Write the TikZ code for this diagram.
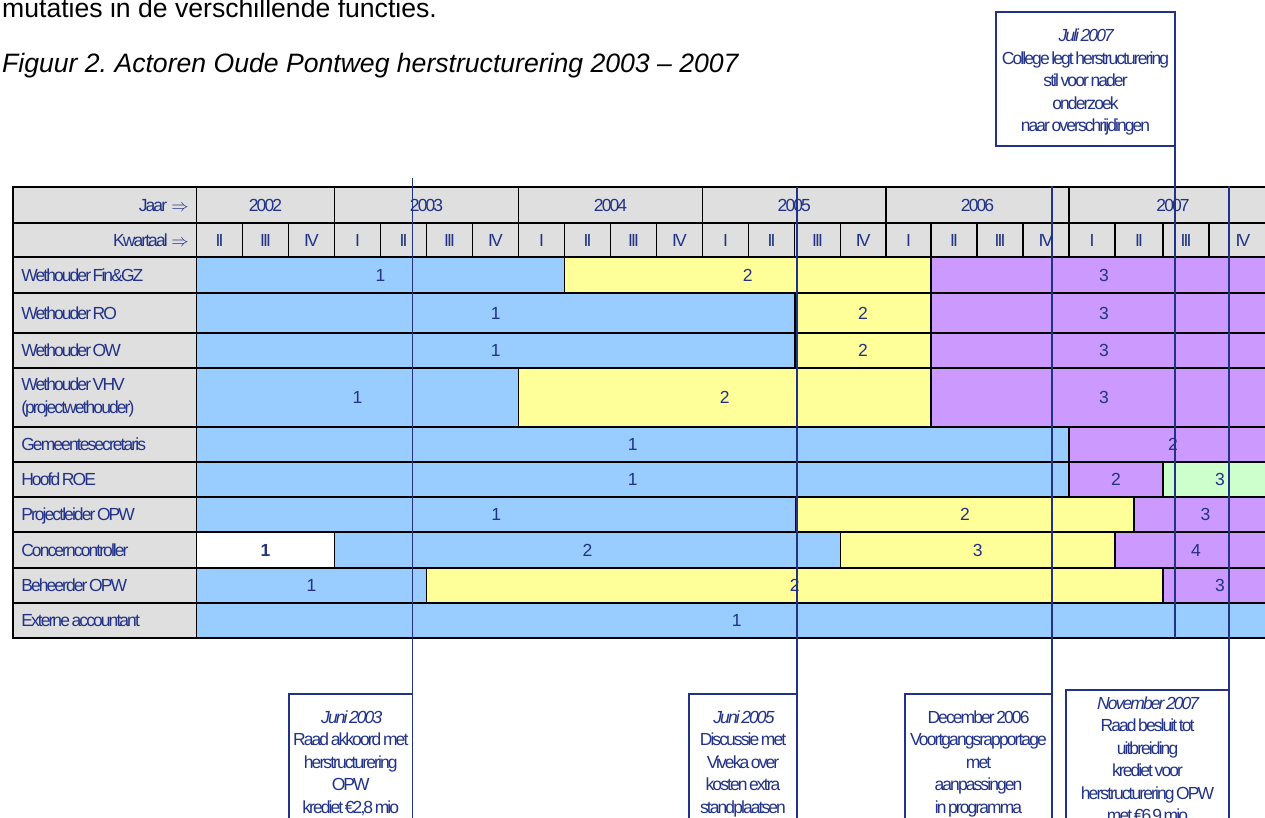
\documentclass[tikz,border=0pt]{standalone}
\usepackage{fontspec}
\setmainfont{Liberation Sans}
\newfontfamily\tablefont[LetterSpace=-11, WordSpace=0.55]{Liberation Sans}
\definecolor{ink}{RGB}{33,50,135}
\definecolor{hdr}{RGB}{223,223,223}
\definecolor{barblue}{RGB}{153,204,255}
\definecolor{baryellow}{RGB}{255,255,153}
\definecolor{barpurple}{RGB}{204,153,255}
\definecolor{bargreen}{RGB}{204,255,204}
\frenchspacing

\tikzset{
  tabtext/.style={font=\tablefont\fontsize{17.5}{22.5}\selectfont, text=ink},
  fontspaces/.style={execute at begin node={\spaceskip=0pt\relax\xspaceskip=0pt\relax}},
  oneline/.style={text height=12.5pt, text depth=0pt},
  hdrcell/.style={tabtext, draw=black, line width=1.5pt, fill=hdr, inner sep=0pt},
  rowlabel/.style={hdrcell, fontspaces, text width=167.5pt, inner xsep=8.5pt, align=left, anchor=west},
  bar/.style={tabtext, oneline, draw=black, line width=1.4pt, inner sep=0pt},
  eventline/.style={draw=ink, line width=1.6pt},
  eventbox/.style={draw=ink, line width=1.6pt, fill=white, inner sep=0pt, outer sep=0pt, anchor=north west},
  eventtext/.style={tabtext, align=center, anchor=north, inner sep=0pt},
}

% one coloured period of a row: name, colour, x from, x to, y top, y bottom, number
\newcommand\timebar[7]{%
  \node[bar, fill=#2, minimum width={#4-#3}, minimum height={#6-#5}] (#1) at ({(#3+#4)/2},{(#5+#6)/2}) {#7};}

\begin{document}
\begin{tikzpicture}[x=1pt, y=-1pt]
\useasboundingbox (0,0) rectangle (1265,818);
\clip (0,0) rectangle (1265,818);

% running text and caption
\node[anchor=base west, inner sep=0pt, font=\fontsize{26.6}{30}\selectfont] (intro) at (2,18) {mutaties in de verschillende functies.};
\node[anchor=base west, inner sep=0pt, font=\fontsize{26.6}{30}\selectfont\itshape] (caption) at (2,72.7) {Figuur 2. Actoren Oude Pontweg herstructurering 2003 -- 2007};

% header: years
\node[hdrcell, fontspaces, oneline, text width=168pt, inner xsep=8pt, align=right, minimum height=36pt, anchor=west] (jaar) at (12,205) {Jaar $\Rightarrow$};
\foreach \a/\b/\yr [count=\i] in {196.5/334.5/2002, 334.5/518.5/2003, 518.5/702.5/2004, 702.5/886/2005, 886/1069/2006, 1069/1277/2007}
  \node[hdrcell, oneline, minimum width={\b-\a}, minimum height=36] (yr\i) at ({(\a+\b)/2},205) {\yr};

% header: quarters
\node[hdrcell, fontspaces, oneline, text width=168pt, inner xsep=8pt, align=right, minimum height=34pt, anchor=west] (kwartaal) at (12,240) {Kwartaal $\Rightarrow$};
\foreach \a/\b/\q [count=\i] in {196.5/242.5/II, 242.5/288.5/III, 288.5/334.5/IV, 334.5/380.5/I, 380.5/426.5/II, 426.5/472.5/III, 472.5/518.5/IV, 518.5/564.5/I, 564.5/610.5/II, 610.5/656.5/III, 656.5/702.5/IV, 702.5/748.5/I, 748.5/794.5/II, 794.5/840.5/III, 840.5/886/IV, 886/931/I, 931/977/II, 977/1023/III, 1023/1069/IV, 1069/1115/I, 1115/1163/II, 1163/1209/III, 1209/1277/IV}
  \node[hdrcell, oneline, minimum width={\b-\a}, minimum height=34] (q\i) at ({(\a+\b)/2},240) {\q};

% actor labels
\node[rowlabel, oneline, minimum height=36] (rFin) at (12,275) {Wethouder Fin\&GZ};
\node[rowlabel, oneline, minimum height=40] (rRO) at (12,313) {Wethouder RO};
\node[rowlabel, oneline, minimum height=35] (rOW) at (12,350.5) {Wethouder OW};
\node[rowlabel, minimum height=59] (rVHV) at (12,397.5) {Wethouder VHV\\(projectwethouder)};
\node[rowlabel, oneline, minimum height=35] (rGem) at (12,444.5) {Gemeentesecretaris};
\node[rowlabel, oneline, minimum height=35] (rROE) at (12,479.5) {Hoofd ROE};
\node[rowlabel, oneline, minimum height=35] (rPrj) at (12,514.5) {Projectleider OPW};
\node[rowlabel, oneline, minimum height=36] (rCon) at (12,550) {Concerncontroller};
\node[rowlabel, oneline, minimum height=35] (rBeh) at (12,585.5) {Beheerder OPW};
\node[rowlabel, oneline, minimum height=35] (rExt) at (12,620.5) {Externe accountant};

% periods per actor
\timebar{fin1}{barblue}{196.5}{564.5}{257}{293}{1}
\timebar{fin2}{baryellow}{564.5}{931}{257}{293}{2}
\timebar{fin3}{barpurple}{931}{1277}{257}{293}{3}

\timebar{ro1}{barblue}{196.5}{795}{293}{333}{1}
\timebar{ro2}{baryellow}{795}{931}{293}{333}{2}
\timebar{ro3}{barpurple}{931}{1277}{293}{333}{3}

\timebar{ow1}{barblue}{196.5}{795}{333}{368}{1}
\timebar{ow2}{baryellow}{795}{931}{333}{368}{2}
\timebar{ow3}{barpurple}{931}{1277}{333}{368}{3}

\timebar{vhv1}{barblue}{196.5}{518.5}{368}{427}{1}
\timebar{vhv2}{baryellow}{518.5}{931}{368}{427}{2}
\timebar{vhv3}{barpurple}{931}{1277}{368}{427}{3}

\timebar{gem1}{barblue}{196.5}{1069}{427}{462}{1}
\timebar{gem2}{barpurple}{1069}{1277}{427}{462}{2}

\timebar{roe1}{barblue}{196.5}{1069}{462}{497}{1}
\timebar{roe2}{barpurple}{1069}{1163}{462}{497}{2}
\timebar{roe3}{bargreen}{1163}{1277}{462}{497}{3}

\timebar{prj1}{barblue}{196.5}{796}{497}{532}{1}
\timebar{prj2}{baryellow}{796}{1134}{497}{532}{2}
\timebar{prj3}{barpurple}{1134}{1277}{497}{532}{3}

\timebar{con1}{white}{196.5}{334.5}{532}{568}{\bfseries 1}
\timebar{con2}{barblue}{334.5}{840.5}{532}{568}{2}
\timebar{con3}{baryellow}{840.5}{1115}{532}{568}{3}
\timebar{con4}{barpurple}{1115}{1277}{532}{568}{4}

\timebar{beh1}{barblue}{196.5}{426.5}{568}{603}{1}
\timebar{beh2}{baryellow}{426.5}{1163}{568}{603}{2}
\timebar{beh3}{barpurple}{1163}{1277}{568}{603}{3}

\timebar{ext1}{barblue}{196.5}{1277}{603}{638}{1}

% events: boxes
\node[eventbox, minimum width=123.5, minimum height=150] (b03) at (289,694) {};
\node[eventbox, minimum width=108, minimum height=150] (b05) at (689,694) {};
\node[eventbox, minimum width=147, minimum height=150] (b06) at (905,694) {};
\node[eventbox, minimum width=163, minimum height=160] (b07n) at (1066,690) {};
\node[eventbox, minimum width=179, minimum height=134] (b07j) at (996,12) {};

\node[eventtext] (t03) at (350.75,710.4) {\textit{Juni 2003}\\Raad akkoord met\\herstructurering\\OPW\\krediet €2,8 mio};
\node[eventtext] (t05) at (743,710.4) {\textit{Juni 2005}\\Discussie met\\Viveka over\\kosten extra\\standplaatsen};
\node[eventtext] (t06) at (978.5,710.4) {December 2006\\Voortgangsrapportage\\met\\aanpassingen\\in programma};
\node[eventtext] (t07n) at (1147.5,696.4) {\textit{November 2007}\\Raad besluit tot\\uitbreiding\\krediet voor\\herstructurering OPW\\met €6,9 mio};
\node[eventtext] (t07j) at (1085.5,28.7) {\textit{Juli 2007}\\College legt herstructurering\\stil voor nader\\onderzoek\\naar overschrijdingen};

% events: time markers
\coordinate (c03) at (412.5,178);
\coordinate (c05) at (797,187);
\coordinate (c06) at (1052,186);
\coordinate (c07n) at (1229,186);
\coordinate (e07j) at (1175,638);
\draw[eventline] (c03) -- (b03.north east);
\draw[eventline] (c05) -- (b05.north east);
\draw[eventline] (c06) -- (b06.north east);
\draw[eventline] (c07n) -- (b07n.north east);
\draw[eventline] (b07j.south east) -- (e07j);
\end{tikzpicture}
\end{document}
